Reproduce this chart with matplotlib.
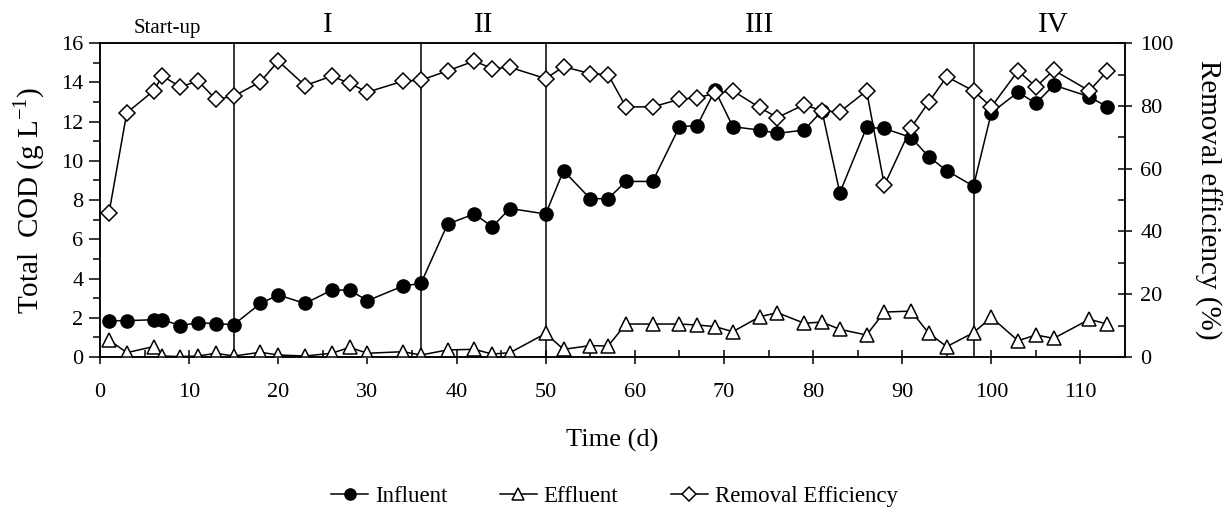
import numpy as np
import matplotlib
matplotlib.use('Agg')
from matplotlib import pyplot as plt
from matplotlib.ticker import MultipleLocator

plt.rcParams['font.family'] = ['Liberation Serif', 'DejaVu Serif']
plt.rcParams['mathtext.fontset'] = 'custom'
plt.rcParams['mathtext.rm'] = 'Liberation Serif'

# -- Data
inf_days = [1, 3, 6, 7, 9, 11, 13, 15, 18, 20, 23, 26, 28, 30, 34, 36, 39, 42, 44, 46,
            50, 52, 55, 57, 59, 62, 65, 67, 69, 71, 74, 76, 79, 81, 83, 86, 88, 91, 93, 95,
            98, 100, 103, 105, 107, 111, 113]
influent = [1.85, 1.85, 1.9, 1.9, 1.6, 1.75, 1.7, 1.65, 2.73, 3.16, 2.73, 3.41, 3.41, 2.87,
            3.62, 3.75, 6.78, 7.29, 6.64, 7.57, 7.29, 9.5, 8.07, 8.07, 8.95, 8.95, 11.74, 11.8,
            13.6, 11.74, 11.57, 11.4, 11.57, 12.55, 8.37, 11.7, 11.65, 11.19, 10.2, 9.5, 8.71,
            12.45, 13.5, 12.93, 13.86, 13.27, 12.75]

eff_days = [1, 3, 6, 7, 9, 11, 13, 15, 18, 20, 23, 26, 28, 30, 34, 36, 39, 42, 44, 46,
            50, 52, 55, 57, 59, 62, 65, 67, 69, 71, 74, 76, 79, 81, 83, 86, 88, 91, 93, 95,
            98, 100, 103, 105, 107, 111, 113]
effluent = [0.87, 0.22, 0.53, 0.05, 0.02, 0.05, 0.19, 0.05, 0.24, 0.1, 0.05, 0.19, 0.49, 0.19,
            0.27, 0.1, 0.36, 0.39, 0.15, 0.22, 1.2, 0.39, 0.58, 0.56, 1.68, 1.68, 1.68, 1.63,
            1.55, 1.29, 2.05, 2.26, 1.72, 1.78, 1.41, 1.12, 2.29, 2.34, 1.2, 0.53, 1.24, 2.02,
            0.83, 1.12, 0.95, 1.92, 1.68]

rem_days = [1, 3, 6, 7, 9, 11, 13, 15, 18, 20, 23, 26, 28, 30, 34, 36, 39, 42, 44, 46,
            50, 52, 55, 57, 59, 62, 65, 67, 69, 71, 74, 76, 79, 81, 83, 86, 88, 91, 93, 95,
            98, 100, 103, 105, 107, 111, 113]
removal = [45.8, 77.8, 84.8, 89.5, 86.1, 87.9, 82.1, 83.1, 87.7, 94.3, 86.5, 89.5, 87.2, 84.4,
           87.9, 88.2, 91.2, 94.3, 91.9, 92.3, 88.7, 92.5, 90.3, 90.0, 79.7, 79.7, 82.1, 82.6,
           84.0, 84.8, 79.5, 76.3, 80.4, 78.4, 78.1, 84.8, 54.7, 73.1, 81.3, 89.3, 84.8, 79.7,
           91.2, 86.1, 91.4, 84.8, 91.1]

phase_bounds = [15, 36, 50, 98]
phase_names = ['Start-up', 'I', 'II', 'III', 'IV']
phase_centers = [7.5, 25.5, 43, 74, 107]

fig = plt.figure(figsize=(12.29, 5.2), dpi=100)
ax1 = fig.add_axes([0.0814, 0.3135, 0.834, 0.6035])
ax2 = ax1.twinx()

# COD series on the left axis
ax1.plot(inf_days, influent, '-o', color='black', markerfacecolor='black',
         markeredgecolor='black', markersize=9.5, linewidth=1.1, label='Influent', zorder=3)
ax1.plot(eff_days, effluent, '-^', color='black', markerfacecolor='white',
         markeredgecolor='black', markersize=10, markeredgewidth=1.1, linewidth=1.1,
         label='Effluent', zorder=3)

# removal efficiency on the right axis
ax2.plot(rem_days, removal, '-D', color='black', markerfacecolor='white',
         markeredgecolor='black', markersize=8, markeredgewidth=1.1, linewidth=1.1,
         label='Removal Efficiency', zorder=3)

for b in phase_bounds:
    ax1.axvline(b, color='black', linewidth=1.1, zorder=1)

ax1.set_xlim(0, 115)
ax1.set_ylim(0, 16)
ax2.set_ylim(0, 100)

ax1.xaxis.set_major_locator(MultipleLocator(10))
ax1.xaxis.set_minor_locator(MultipleLocator(5))
ax1.yaxis.set_major_locator(MultipleLocator(2))
ax1.yaxis.set_minor_locator(MultipleLocator(1))
ax2.yaxis.set_major_locator(MultipleLocator(20))
ax2.yaxis.set_minor_locator(MultipleLocator(10))

ax1.tick_params(axis='x', which='major', direction='inout', length=10, width=1.1,
                labelsize=16, pad=14)
ax1.tick_params(axis='x', which='minor', direction='in', length=5, width=1.1)
ax1.tick_params(axis='y', which='major', direction='out', length=8, width=1.1,
                labelsize=16, pad=4)
ax1.tick_params(axis='y', which='minor', direction='out', length=5, width=1.1)
ax2.tick_params(axis='y', which='major', direction='inout', length=10, width=1.1,
                labelsize=16, pad=6)
ax2.tick_params(axis='y', which='minor', direction='in', length=5, width=1.1)

for ax in (ax1, ax2):
    for s in ax.spines.values():
        s.set_linewidth(1.1)

ax1.set_xlabel('Time (d)', fontsize=19, labelpad=19)
ax1.set_ylabel('Total  COD (g L$^{-1}$)', fontsize=21, labelpad=10)
ax2.set_ylabel('Removal efficiency (%)', fontsize=21, rotation=270, labelpad=34)

# phase labels above the plot
for name, c in zip(phase_names, phase_centers):
    fs = 15 if name == 'Start-up' else 21
    ax1.text(c, 1.015, name, transform=ax1.get_xaxis_transform(), ha='center',
             va='bottom', fontsize=fs)

h1, l1 = ax1.get_legend_handles_labels()
h2, l2 = ax2.get_legend_handles_labels()
fig.legend(h1 + h2, l1 + l2, loc='center', bbox_to_anchor=(0.5, 0.045), ncol=3,
           frameon=False, fontsize=16.5, handlelength=1.6, handletextpad=0.3,
           columnspacing=2.3, markerscale=0.85)

plt.savefig('out.png', dpi=100)
